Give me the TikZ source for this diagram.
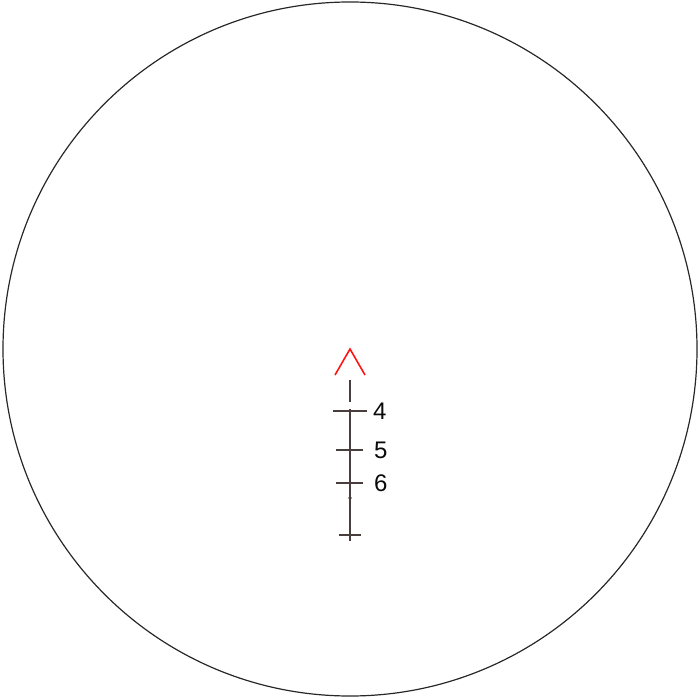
\documentclass[tikz,border=0pt]{standalone}
\usepackage{fontspec}
\setmainfont{Liberation Sans}
\usetikzlibrary{positioning}
\definecolor{colorring}   {RGB}{40 ,40 ,40 }
\definecolor{colorpost}   {RGB}{72 ,62 ,62 }
\definecolor{colorchevron}{RGB}{255,20 ,20 }
\definecolor{colortext}   {RGB}{10 ,10 ,10 }

\begin{document}
\begin{tikzpicture}[
    x=1pt, y=-1pt,
    node distance = 6pt,
    ring/.style={draw=colorring,line width=1.2pt},
    post/.style={draw=colorpost,line width=1.3pt},
    chevron/.style={draw=colorchevron,line width=1.6pt,line join=miter},
    txt/.style={text=colortext,font={\fontsize{24}{24}\selectfont},inner sep=0pt,anchor=west},
]

    \useasboundingbox (0,0) rectangle (700,700);

    % Ring
    \draw[ring] (350,349) circle (347);

    % Points
    \coordinate (apex)   at (350,349);
    \coordinate (wingl)  at (335,375);
    \coordinate (wingr)  at (365,375);
    \coordinate (stubt)  at (350,380);
    \coordinate (stubb)  at (350,402);
    \coordinate (postt)  at (350,409);
    \coordinate (postb)  at (350,541);
    \coordinate (tick4w) at (333,411);
    \coordinate (tick4e) at (367,411);
    \coordinate (tick5w) at (336,450);
    \coordinate (tick5e) at (363,450);
    \coordinate (tick6w) at (336,483);
    \coordinate (tick6e) at (363,483);
    \coordinate (tick7w) at (339,535);
    \coordinate (tick7e) at (361,535);
    \coordinate (dot)    at (350,498);

    % Chevron
    \draw[chevron] (wingl) -- (apex) -- (wingr);

    % Post
    \draw[post] (stubt) -- (stubb);
    \draw[post] (postt) -- (postb);
    \draw[post] (tick4w) -- (tick4e);
    \draw[post] (tick5w) -- (tick5e);
    \draw[post] (tick6w) -- (tick6e);
    \draw[post] (tick7w) -- (tick7e);
    \fill[colorpost] (dot) circle (1.8);

    % Text
    \node[txt,right=of tick4e] (lab4) {4};
    \node[txt,right=11pt of tick5e] (lab5) {5};
    \node[txt,right=11pt of tick6e] (lab6) {6};

\end{tikzpicture}
\end{document}
